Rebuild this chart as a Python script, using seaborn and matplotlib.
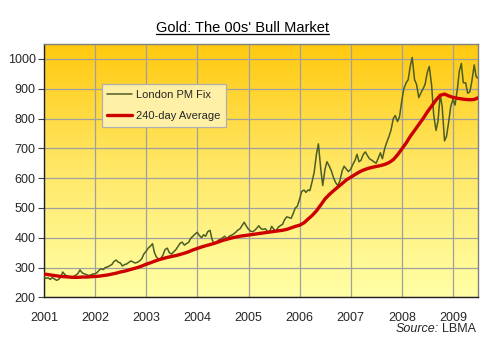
# Gold: The 00s' Bull Market

import pandas as pd
import numpy as np
import matplotlib.pyplot as plt
import matplotlib.dates as mdates
from matplotlib.colors import LinearSegmentedColormap
from matplotlib.lines import Line2D
import seaborn as sns

# Data

# London PM Fix, two readings per month (1st and 15th), Jan 2001 - Jul 2009
fix_2001 = [268, 264, 265, 260, 266, 262, 257, 260, 268, 285, 275, 272,
            268, 266, 270, 274, 280, 292, 282, 279, 276, 273, 275, 278]
fix_2002 = [279, 283, 292, 296, 293, 300, 302, 306, 310, 320, 325, 318,
            315, 305, 310, 312, 318, 322, 318, 315, 318, 322, 330, 345]
fix_2003 = [355, 365, 372, 380, 350, 335, 328, 330, 342, 360, 365, 350,
            345, 352, 360, 370, 382, 385, 375, 380, 385, 398, 405, 412]
fix_2004 = [418, 408, 400, 410, 405, 420, 425, 395, 378, 385, 392, 395,
            400, 405, 395, 405, 408, 412, 418, 425, 430, 440, 452, 440]
fix_2005 = [428, 422, 420, 425, 432, 440, 430, 428, 430, 422, 420, 438,
            428, 422, 435, 440, 445, 460, 470, 468, 465, 480, 500, 505]
fix_2006 = [530, 555, 560, 552, 560, 558, 590, 620, 680, 715, 630, 575,
            630, 655, 640, 625, 600, 585, 575, 590, 625, 640, 630, 622]
fix_2007 = [630, 645, 660, 680, 655, 660, 680, 688, 675, 665, 660, 655,
            650, 665, 685, 665, 700, 720, 740, 760, 800, 810, 790, 805]
fix_2008 = [860, 900, 920, 930, 975, 1005, 930, 915, 870, 885, 900, 915,
            955, 975, 910, 815, 760, 790, 880, 840, 725, 740, 790, 840]
fix_2009 = [865, 845, 900, 960, 985, 920, 920, 885, 890, 925, 980, 940,
            935]

# 240-day average, one reading per month, Jan 2001 - Jul 2009
avg_2001 = [278, 276, 274, 272, 270, 269, 268, 267, 267, 268, 268, 269]
avg_2002 = [270, 271, 273, 275, 278, 281, 285, 288, 292, 296, 300, 305]
avg_2003 = [311, 316, 321, 326, 330, 334, 337, 340, 344, 348, 353, 359]
avg_2004 = [364, 369, 373, 377, 381, 386, 391, 395, 399, 402, 405, 407]
avg_2005 = [409, 411, 413, 415, 417, 419, 421, 423, 425, 428, 433, 438]
avg_2006 = [442, 450, 462, 475, 490, 510, 530, 545, 558, 570, 582, 594]
avg_2007 = [603, 612, 620, 627, 632, 636, 639, 642, 646, 652, 662, 678]
avg_2008 = [698, 718, 740, 760, 780, 800, 822, 842, 862, 878, 882, 876]
avg_2009 = [871, 868, 866, 864, 863, 864, 870]

y_ticks = [200, 300, 400, 500, 600, 700, 800, 900, 1000]

fix = (fix_2001 + fix_2002 + fix_2003 + fix_2004 + fix_2005
       + fix_2006 + fix_2007 + fix_2008 + fix_2009)
avg = (avg_2001 + avg_2002 + avg_2003 + avg_2004 + avg_2005
       + avg_2006 + avg_2007 + avg_2008 + avg_2009)

df_fix = pd.DataFrame({
    "date": pd.date_range("2001-01-01", periods=len(fix), freq="SMS"),
    "price": fix,
})
df_avg = pd.DataFrame({
    "date": pd.date_range("2001-01-01", periods=len(avg), freq="MS"),
    "price": avg,
})

# Style

sns.set_style("white")
plt.rcParams["font.family"] = ["Liberation Sans", "DejaVu Sans"]

fig = plt.figure(figsize=(5, 3.51), dpi=100)
ax = fig.add_axes([0.088, 0.153, 0.868, 0.7215])

# Gradient background
cmap = LinearSegmentedColormap.from_list(
    "gold_bg", ["#FFFFA6", "#FFE868", "#FFC90E"]
)
grad = np.linspace(0, 1, 256).reshape(-1, 1)
ax.imshow(grad, cmap=cmap, aspect="auto", extent=[0, 1, 0, 1],
          transform=ax.transAxes, origin="lower", zorder=0)

sns.lineplot(data=df_fix, x="date", y="price", ax=ax, color="#4B5E23",
             linewidth=1.1, label="London PM Fix", zorder=3)
sns.lineplot(data=df_avg, x="date", y="price", ax=ax, color="#CC0000",
             linewidth=2.4, label="240-day Average", zorder=4)

ax.set_xlim(pd.Timestamp("2001-01-01"), pd.Timestamp("2009-06-28"))
ax.set_ylim(200, 1050)
ax.set_yticks(y_ticks)
ax.xaxis.set_major_locator(mdates.YearLocator())
ax.xaxis.set_major_formatter(mdates.DateFormatter("%Y"))

ax.grid(True, color="#A0A0A0", linewidth=0.9, zorder=1)
for line in ax.get_xgridlines() + ax.get_ygridlines():
    line.set_zorder(1)

ax.set_xlabel("")
ax.set_ylabel("")
ax.tick_params(axis="y", which="major", left=True, length=4, width=0.8,
               color="#404040", labelsize=9, pad=2)
ax.tick_params(axis="x", which="major", bottom=False, labelsize=9, pad=7)

for side in ["top", "right"]:
    ax.spines[side].set_color("#808080")
    ax.spines[side].set_linewidth(1.0)
for side in ["left", "bottom"]:
    ax.spines[side].set_color("#202020")
    ax.spines[side].set_linewidth(1.0)

leg = ax.legend(loc="upper left", bbox_to_anchor=(0.133, 0.841),
                borderaxespad=0, fontsize=8, frameon=True, fancybox=False,
                handlelength=2.25, handletextpad=0.35, borderpad=0.5,
                labelspacing=1.0)
leg.get_frame().set_facecolor("#FFF0A8")
leg.get_frame().set_edgecolor("#B0B0B0")
leg.get_frame().set_alpha(1.0)
leg.get_frame().set_linewidth(0.9)

# Title with underline
title = fig.text(0.485, 0.92, "Gold: The 00s' Bull Market", ha="center",
                 va="center", fontsize=10.5, color="#000000")

# Source note
src = fig.text(0.952, 0.063, "LBMA", ha="right", va="center", fontsize=9)

fig.canvas.draw()
renderer = fig.canvas.get_renderer()
inv = fig.transFigure.inverted()

bb = title.get_window_extent(renderer).transformed(inv)
fig.add_artist(Line2D([bb.x0, bb.x1], [bb.y0 + 0.002, bb.y0 + 0.002],
                      transform=fig.transFigure, color="black",
                      linewidth=0.9))

sb = src.get_window_extent(renderer).transformed(inv)
fig.text(sb.x0 - 0.006, 0.063, "Source:", ha="right", va="center",
         fontsize=9, style="italic")

plt.savefig("out.png", dpi=100)
